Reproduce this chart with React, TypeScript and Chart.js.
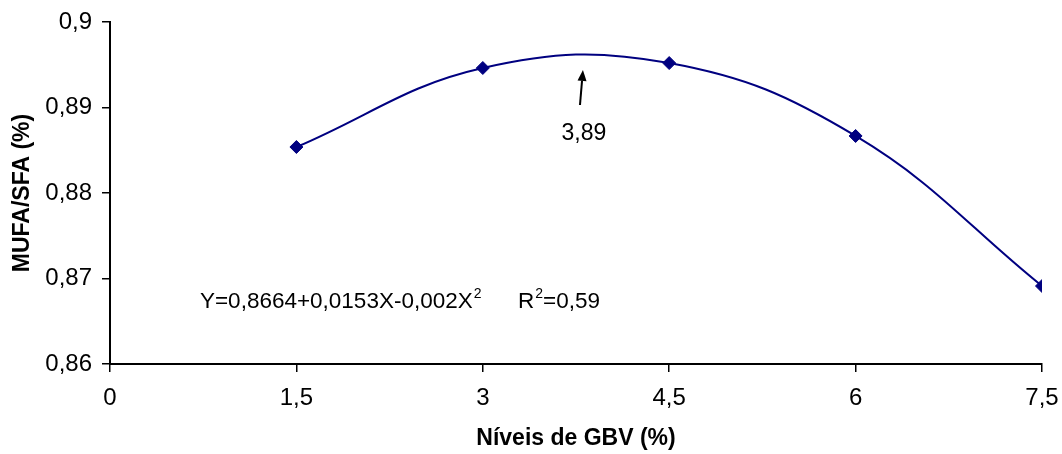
import React, { useEffect, useRef } from "react";
import { Chart, registerables } from "chart.js";

Chart.register(...registerables);

// ---- data ----
const xLevels = [1.5, 3, 4.5, 6, 7.5];
const mufaSfa = [0.88538, 0.89462, 0.8952, 0.88667, 0.86912];
const xTickValues = [0, 1.5, 3, 4.5, 6, 7.5];
const yTickValues = [0.86, 0.87, 0.88, 0.89, 0.9];
const xTitle = "Níveis de GBV (%)";
const yTitle = "MUFA/SFA (%)";
const optimumLabel = "3,89";
const equationMain = "Y=0,8664+0,0153X-0,002X";
const equationR = "R";
const equationREnd = "=0,59";

// annotation anchors (data units)
const arrowTail = { x: 3.782, y: 0.89029 };
const arrowTip = { x: 3.806, y: 0.89439 };
const optimumText = { x: 3.814, y: 0.8862 };
const equationAnchor = { x: 0.724, y: 0.86655 };
const rAnchor = { x: 3.283, y: 0.86655 };

const FONT = '"Liberation Sans", Arial, sans-serif';
const fmt = (v: number) => String(Number(v.toFixed(2))).replace(".", ",");

const annotationPlugin = {
  id: "annotations",
  afterDraw(chart: any) {
    const { ctx, scales } = chart;
    const sx = scales.x;
    const sy = scales.y;
    ctx.save();
    // arrow
    const tx = sx.getPixelForValue(arrowTail.x);
    const ty = sy.getPixelForValue(arrowTail.y);
    const hx = sx.getPixelForValue(arrowTip.x);
    const hy = sy.getPixelForValue(arrowTip.y);
    const ang = Math.atan2(hy - ty, hx - tx);
    const headLen = 11;
    const headW = 4.5;
    const bx = hx - headLen * Math.cos(ang);
    const by = hy - headLen * Math.sin(ang);
    ctx.strokeStyle = "#000";
    ctx.fillStyle = "#000";
    ctx.lineWidth = 2;
    ctx.beginPath();
    ctx.moveTo(tx, ty);
    ctx.lineTo(bx, by);
    ctx.stroke();
    ctx.beginPath();
    ctx.moveTo(hx, hy);
    ctx.lineTo(bx + headW * Math.sin(ang), by - headW * Math.cos(ang));
    ctx.lineTo(bx - headW * Math.sin(ang), by + headW * Math.cos(ang));
    ctx.closePath();
    ctx.fill();

    // optimum label
    ctx.font = `23px ${FONT}`;
    ctx.textAlign = "center";
    ctx.textBaseline = "alphabetic";
    ctx.fillText(optimumLabel, sx.getPixelForValue(optimumText.x), sy.getPixelForValue(optimumText.y));

    // equation
    ctx.textAlign = "left";
    let ex = sx.getPixelForValue(equationAnchor.x);
    const ey = sy.getPixelForValue(equationAnchor.y);
    ctx.font = `22.5px ${FONT}`;
    ctx.fillText(equationMain, ex, ey);
    ex += ctx.measureText(equationMain).width;
    ctx.font = `14px ${FONT}`;
    ctx.fillText("2", ex + 1, ey - 10);

    let rx = sx.getPixelForValue(rAnchor.x);
    ctx.font = `22.5px ${FONT}`;
    ctx.fillText(equationR, rx, ey);
    rx += ctx.measureText(equationR).width;
    ctx.font = `14px ${FONT}`;
    ctx.fillText("2", rx + 1, ey - 10);
    rx += ctx.measureText("2").width + 1;
    ctx.font = `22.5px ${FONT}`;
    ctx.fillText(equationREnd, rx, ey);
    ctx.restore();
  },
};

export default function App() {
  const ref = useRef<HTMLCanvasElement>(null);
  useEffect(() => {
    if (!ref.current) return;
    const chart = new Chart(ref.current, {
      type: "scatter",
      data: {
        datasets: [
          {
            data: xLevels.map((x, i) => ({ x, y: mufaSfa[i] })),
            showLine: true,
            tension: 0.4,
            borderColor: "#000080",
            backgroundColor: "#000080",
            borderWidth: 2,
            pointStyle: "rectRot",
            pointRadius: 6.5,
            pointBorderWidth: 1,
            pointBackgroundColor: "#000080",
            pointBorderColor: "#000080",
          },
        ],
      },
      options: {
        animation: false,
        responsive: false,
        events: [],
        layout: { padding: { top: 22, right: 20, left: 0, bottom: 0 } },
        plugins: { legend: { display: false }, tooltip: { enabled: false } },
        scales: {
          x: {
            type: "linear",
            min: 0,
            max: 7.5,
            afterBuildTicks: (s: any) => {
              s.ticks = xTickValues.map((v) => ({ value: v }));
            },
            afterFit: (s: any) => {
              s.height = 90;
              s.paddingLeft = 0;
              s.paddingRight = 0;
            },
            ticks: {
              callback: (v: any) => fmt(Number(v)),
              color: "#000",
              font: { family: FONT, size: 24 },
              padding: 12,
              maxRotation: 0,
            },
            grid: {
              drawOnChartArea: false,
              drawTicks: true,
              tickLength: 8,
              color: "#000",
              lineWidth: 1.5,
            },
            border: { color: "#000", width: 2 },
            title: {
              display: true,
              text: xTitle,
              color: "#000",
              font: { family: FONT, size: 23, weight: "bold" },
              padding: { top: 0, bottom: 2 },
            },
          },
          y: {
            type: "linear",
            min: 0.86,
            max: 0.9,
            afterBuildTicks: (s: any) => {
              s.ticks = yTickValues.map((v) => ({ value: v }));
            },
            afterFit: (s: any) => {
              s.width = 110;
              s.paddingTop = 0;
              s.paddingBottom = 0;
            },
            ticks: {
              callback: (v: any) => fmt(Number(v)),
              color: "#000",
              font: { family: FONT, size: 24 },
              padding: 10,
            },
            grid: {
              drawOnChartArea: false,
              drawTicks: true,
              tickLength: 8,
              color: "#000",
              lineWidth: 1.5,
            },
            border: { color: "#000", width: 2 },
            title: {
              display: true,
              text: yTitle,
              color: "#000",
              font: { family: FONT, size: 23, weight: "bold" },
              padding: { top: 9, bottom: 0 },
            },
          },
        },
      },
      plugins: [annotationPlugin],
    } as any);
    return () => chart.destroy();
  }, []);
  return (
    <div style={{ position: "absolute", left: 0, top: 0, width: 1062, height: 454, background: "#fff" }}>
      <canvas ref={ref} width={1062} height={454} style={{ width: 1062, height: 454 }} />
    </div>
  );
}
